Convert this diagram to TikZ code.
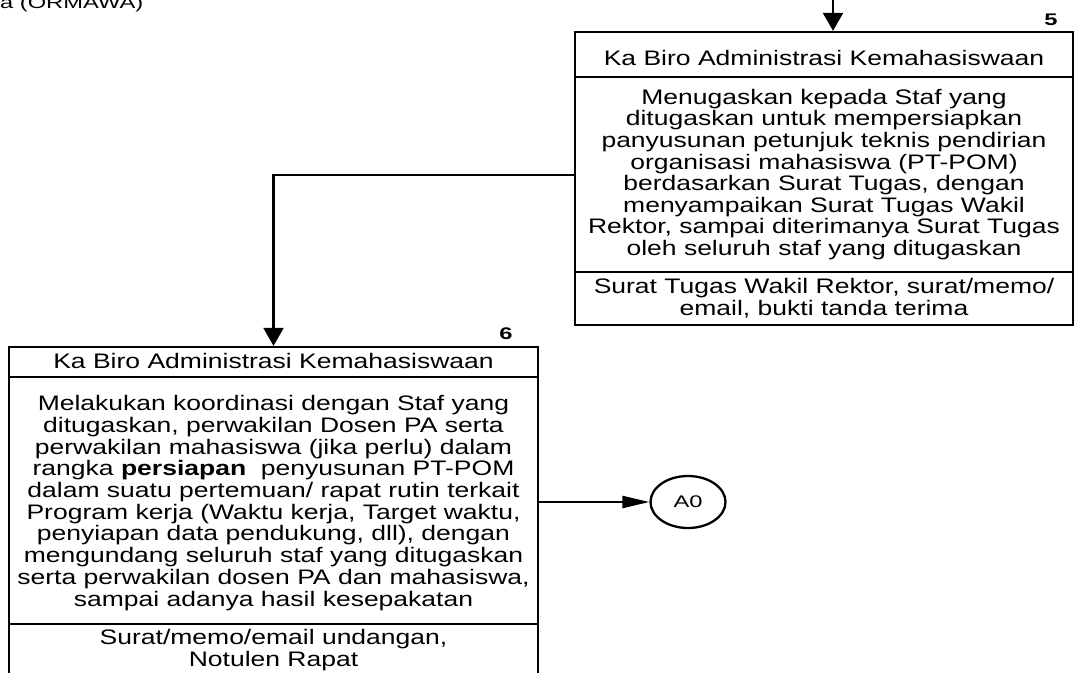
\documentclass[tikz,border=0pt]{standalone}
\usepackage{fontspec}
\setmainfont{Liberation Sans}
\newfontfamily\wfont[FakeStretch=1.262]{Liberation Sans}
\newfontfamily\sfont[FakeStretch=1.41]{Liberation Sans}
\usetikzlibrary{shapes.geometric,arrows.meta}
\begin{document}
\begin{tikzpicture}[x=1pt,y=-1pt,
  boxst/.style={draw, line width=2.3pt, inner sep=0pt, rectangle},
  divline/.style={line width=2.3pt},
  txt/.style={font=\wfont\fontsize{21}{21.6}\selectfont, align=center, inner sep=0pt},
  txtb/.style={font=\wfont\fontsize{21}{21.7}\selectfont, align=center, inner sep=0pt},
  small/.style={font=\sfont\fontsize{16.8}{18}\selectfont, inner sep=0pt},
  conn/.style={line width=2.3pt, -{Triangle[length=18pt,width=20pt]}},
  connh/.style={line width=2.3pt, -{Triangle[length=27pt,width=12pt]}}]
\useasboundingbox (0,0) rectangle (1075,672);

% clipped heading at top left
\node[small, anchor=base west] (head) at (0,8) {a (ORMAWA)};

% box 5
\node[boxst, minimum width=498pt, minimum height=293pt] (b5) at (824,178.5) {};
\draw[divline] (b5.west |- 0,77) -- (b5.east |- 0,77);
\draw[divline] (b5.west |- 0,272) -- (b5.east |- 0,272);
\node[small, font=\sfont\bfseries\fontsize{16.8}{18}\selectfont] (n5) at (1051,20) {5};
\node[txt, anchor=base] (h5) at (824,65) {Ka Biro Administrasi Kemahasiswaan};
\node[txt, anchor=base] (t5) at (824,255.5) {Menugaskan kepada Staf yang\\
ditugaskan untuk mempersiapkan\\
panyusunan petunjuk teknis pendirian\\
organisasi mahasiswa (PT-POM)\\
berdasarkan Surat Tugas, dengan\\
menyampaikan Surat Tugas Wakil\\
Rektor, sampai diterimanya Surat Tugas\\
oleh seluruh staf yang ditugaskan};
\node[txt, anchor=base] (f5) at (824,315) {Surat Tugas Wakil Rektor, surat/memo/\\
email, bukti tanda terima};

% box 6
\node[boxst, minimum width=529pt, minimum height=331pt] (b6) at (273.5,512.5) {};
\draw[divline] (b6.west |- 0,377) -- (b6.east |- 0,377);
\draw[divline] (b6.west |- 0,624) -- (b6.east |- 0,624);
\node[small, font=\sfont\bfseries\fontsize{16.8}{18}\selectfont] (n6) at (506,334) {6};
\node[txt, anchor=base] (h6) at (273.5,368) {Ka Biro Administrasi Kemahasiswaan};
\node[txtb, anchor=base] (t6) at (273.5,606) {Melakukan koordinasi dengan Staf yang\\
ditugaskan, perwakilan Dosen PA serta\\
perwakilan mahasiswa (jika perlu) dalam\\
rangka {\bfseries persiapan}\ \ penyusunan PT-POM\\
dalam suatu pertemuan/ rapat rutin terkait\\
Program kerja (Waktu kerja, Target waktu,\\
penyiapan data pendukung, dll), dengan\\
mengundang seluruh staf yang ditugaskan\\
serta perwakilan dosen PA dan mahasiswa,\\
sampai adanya hasil kesepakatan};
\node[txt, anchor=base] (f6) at (273.5,666) {Surat/memo/email undangan,\\
Notulen Rapat};

% connector A0
\node[ellipse, draw, line width=2.3pt, minimum width=75pt, minimum height=52pt, inner sep=0pt, small] (a0) at (688,502) {A0};

% connectors
\coordinate (top) at (833,-10);
\coordinate (k1) at (273.5,175);
\draw[conn] (top) -- (top |- b5.north);
\draw[conn] (b5.west |- k1) -- (k1) -- (k1 |- b6.north);
\draw[connh] (b6.east |- a0) -- (a0);
\end{tikzpicture}
\end{document}
